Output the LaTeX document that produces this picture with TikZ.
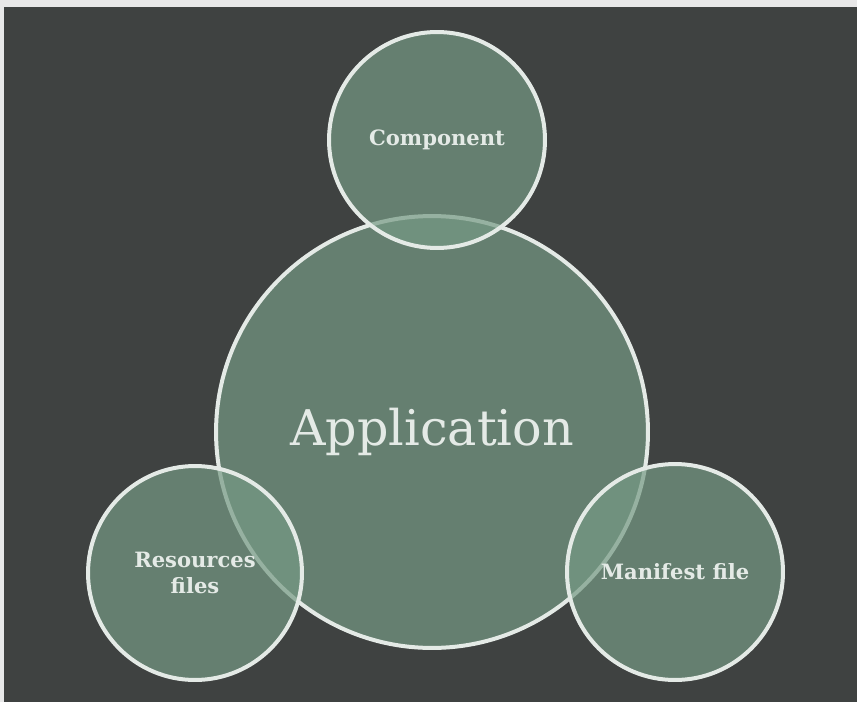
\documentclass[tikz,border=0pt]{standalone}
\usepackage{fontspec}
\setmainfont{DejaVu Serif}
\usetikzlibrary{positioning}
\definecolor{slate}{HTML}{3F4241}
\definecolor{paper}{HTML}{E8E8E8}
\definecolor{sage}{HTML}{769A84}
\definecolor{chalk}{HTML}{E4EAE6}

\begin{document}
\begin{tikzpicture}[x=0.02cm, y=-0.02cm]
    \tikzstyle{bubble}=[
        circle,
        draw = chalk,
        line width = 0.08cm,
        fill = sage,
        fill opacity = 0.7,
        text opacity = 1,
        text = chalk,
        align = center,
        inner sep = 0pt,
        font = \fontsize{12}{15}\selectfont\bfseries
    ]
    \useasboundingbox (0,0) rectangle (857,702);
    \fill[paper] (0,0) rectangle (857,702);
    \fill[slate] (4,7) rectangle (857,702);

    \node (app) [bubble, minimum size=8.64cm,
        font=\fontsize{28}{32}\selectfont] at (432,432) {Application};
    \node (comp) [bubble, minimum size=4.32cm] at (437,140) {Component};
    \node (res) [bubble, minimum size=4.28cm] at (195,573) {Resources\\files};
    \node (man) [bubble, minimum size=4.32cm] at (675,572) {Manifest file};
\end{tikzpicture}
\end{document}
